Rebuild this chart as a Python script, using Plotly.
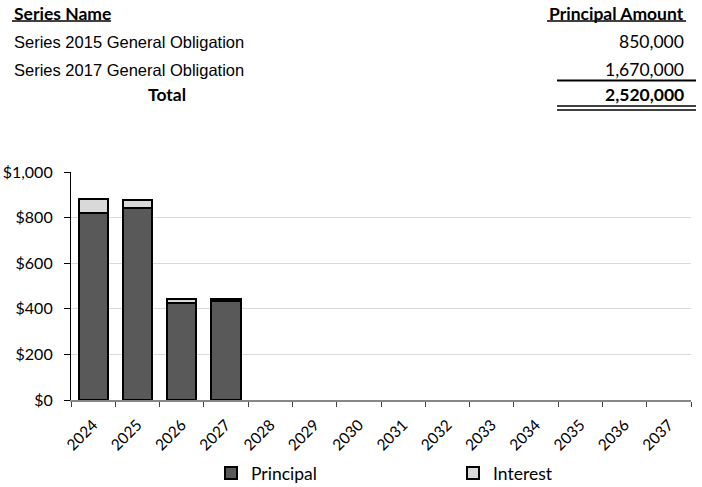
import plotly.graph_objects as go

# ---- data ----
years = ["2024", "2025", "2026", "2027", "2028", "2029", "2030",
         "2031", "2032", "2033", "2034", "2035", "2036", "2037"]
principal = [820, 840, 425, 435, None, None, None, None, None, None, None, None, None, None]
interest = [60, 38, 20, 7, None, None, None, None, None, None, None, None, None, None]

series_names = ["Series 2015 General Obligation", "Series 2017 General Obligation"]
series_principal = [850000, 1670000]
total_principal = sum(series_principal)

# ---- layout geometry (pixels) ----
W, H = 702, 487
L, R, T, B = 71, 691, 172, 400


def px(x):
    return (x - L) / (R - L)


def py(y):
    return (B - y) / (B - T)


TICK_FONT = "Lato"
ARIAL = "Liberation Sans, Arial"

fig = go.Figure()
fig.add_trace(go.Bar(
    x=years, y=principal, name="Principal",
    marker=dict(color="#595959", line=dict(color="black", width=2)),
))
fig.add_trace(go.Bar(
    x=years, y=interest, name="Interest",
    marker=dict(color="#d9d9d9", line=dict(color="black", width=2)),
))

annotations = []
shapes = []

# table header
annotations.append(dict(text="<b>Series Name</b>", x=px(12), y=py(13), xanchor="left", yanchor="middle",
                        font=dict(family=TICK_FONT, size=17.5, color="black")))
annotations.append(dict(text="<b>Principal Amount</b>", x=px(686), y=py(13), xanchor="right", yanchor="middle",
                        font=dict(family=TICK_FONT, size=17.5, color="black")))
shapes.append(dict(type="line", x0=px(12), x1=px(111), y0=py(21), y1=py(21), line=dict(color="black", width=1.5)))
shapes.append(dict(type="line", x0=px(547), x1=px(686), y0=py(21), y1=py(21), line=dict(color="black", width=1.5)))

row_y = [41.5, 70]
for name, amt, ry in zip(series_names, series_principal, row_y):
    annotations.append(dict(text=name, x=px(12), y=py(ry), xanchor="left", yanchor="middle",
                            font=dict(family=ARIAL, size=16.5, color="black")))
    annotations.append(dict(text=f"{amt:,}", x=px(686), y=py(ry), xanchor="right", yanchor="middle",
                            font=dict(family=TICK_FONT, size=17.5, color="black")))

annotations.append(dict(text="<b>Total</b>", x=px(167), y=py(94), xanchor="center", yanchor="middle",
                        font=dict(family=TICK_FONT, size=17.5, color="black")))
annotations.append(dict(text=f"<b>{total_principal:,}</b>", x=px(686), y=py(94), xanchor="right", yanchor="middle",
                        font=dict(family=TICK_FONT, size=17.5, color="black")))
shapes.append(dict(type="line", x0=px(557), x1=px(696), y0=py(80.5), y1=py(80.5), line=dict(color="black", width=2)))
shapes.append(dict(type="line", x0=px(557), x1=px(696), y0=py(106), y1=py(106), line=dict(color="black", width=1.5)))
shapes.append(dict(type="line", x0=px(557), x1=px(696), y0=py(110), y1=py(110), line=dict(color="black", width=1.5)))

for a in annotations:
    a.update(xref="paper", yref="paper", showarrow=False)
for s in shapes:
    s.update(xref="paper", yref="paper", layer="above")

fig.update_layout(
    width=W, height=H,
    margin=dict(l=L, r=W - R, t=T, b=H - B, pad=0, autoexpand=False),
    paper_bgcolor="white", plot_bgcolor="white",
    barmode="stack", bargap=0.34,
    showlegend=True,
    legend=dict(orientation="h", x=px(211), xanchor="left", y=py(473), yanchor="middle",
                entrywidth=241 - 44, entrywidthmode="pixels", traceorder="normal",
                font=dict(family=TICK_FONT, size=17.5, color="black"),
                bgcolor="rgba(0,0,0,0)"),
    annotations=annotations, shapes=shapes,
    font=dict(family=TICK_FONT, color="black"),
)
fig.update_xaxes(
    type="category", tickson="boundaries", ticks="outside", ticklen=5, tickcolor="#404040",
    showline=True, linecolor="#868686", linewidth=1.5, showgrid=False,
    tickangle=-45, tickfont=dict(family=TICK_FONT, size=15.5, color="black"),
    ticklabelstandoff=8, automargin=False,
)
fig.update_yaxes(
    range=[0, 1000], dtick=200, tickprefix="$", tickformat=",",
    ticks="outside", ticklen=6, tickcolor="black",
    showline=True, linecolor="black", linewidth=1.2,
    showgrid=True, gridcolor="#d9d9d9", gridwidth=1,
    zeroline=False, automargin=False,
    tickfont=dict(family=TICK_FONT, size=16, color="black"),
    ticklabelstandoff=8,
)

fig.write_html("out.html", config={"displayModeBar": False},
               post_script="document.body.style.margin='0';document.body.style.overflow='hidden';")
